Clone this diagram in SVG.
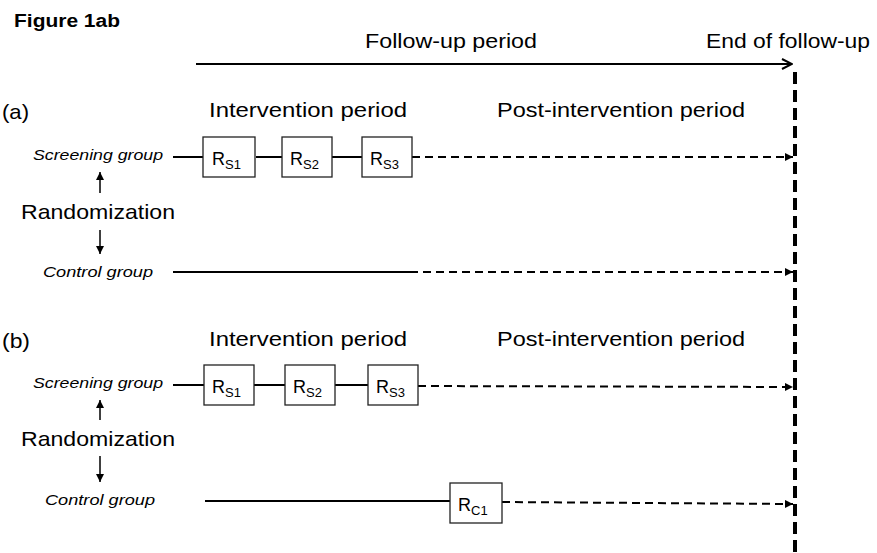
<svg xmlns="http://www.w3.org/2000/svg" width="877" height="553" viewBox="0 0 877 553">
<defs>
<style>
text{font-family:"Liberation Sans","Open Sans",sans-serif;fill:#000}
.big{font-size:21px}
.grp{font-size:15px;font-style:italic}
.box{fill:#fff;stroke:#222;stroke-width:1.3}
.solid{stroke:#000;stroke-width:2;fill:none}
.dash{stroke:#000;stroke-width:2;fill:none;stroke-dasharray:8 5}
.small{stroke:#000;stroke-width:1.5;fill:none}
.lbl{font-size:18px}
.sub{font-size:13px}
</style>
<marker id="open" viewBox="0 0 12 12" refX="11" refY="6" markerWidth="12" markerHeight="12" markerUnits="userSpaceOnUse" orient="auto">
<path d="M1,1 L11,6 L1,11" fill="none" stroke="#000" stroke-width="2"/>
</marker>
<marker id="tri" viewBox="0 0 10 10" refX="10" refY="5" markerWidth="8" markerHeight="8" markerUnits="userSpaceOnUse" orient="auto">
<path d="M0,0 L10,5 L0,10 z" fill="#000"/>
</marker>
</defs>
<text x="14" y="27" style="font-size:18px;font-weight:bold" textLength="106" lengthAdjust="spacingAndGlyphs">Figure 1ab</text>
<text class="big" x="365" y="48" style="font-size:20px" textLength="172" lengthAdjust="spacingAndGlyphs">Follow-up period</text>
<text class="big" x="706" y="48" style="font-size:20px" textLength="164" lengthAdjust="spacingAndGlyphs">End of follow-up</text>
<g id="connectors">
<line class="solid" x1="196" y1="64" x2="792" y2="64" stroke-width="2.5" marker-end="url(#open)"/>
<line x1="795" y1="72" x2="795" y2="553" stroke="#000" stroke-width="4" stroke-dasharray="12 6"/>
<line class="solid" x1="173" y1="157" x2="203" y2="157"/>
<line class="solid" x1="256" y1="157" x2="282" y2="157"/>
<line class="solid" x1="332" y1="157" x2="362" y2="157"/>
<line class="dash" x1="412" y1="157" x2="793" y2="157" marker-end="url(#tri)"/>
<line class="small" x1="100" y1="193" x2="100" y2="172" marker-end="url(#tri)"/>
<line class="small" x1="100" y1="230" x2="100" y2="254" marker-end="url(#tri)"/>
<line class="solid" x1="173" y1="272" x2="410" y2="272"/>
<line class="dash" x1="410" y1="272" x2="793" y2="272" marker-end="url(#tri)"/>
<line class="solid" x1="173" y1="385" x2="204" y2="385"/>
<line class="solid" x1="254" y1="385" x2="285" y2="385"/>
<line class="solid" x1="335" y1="385" x2="368" y2="385"/>
<line class="dash" x1="418" y1="386" x2="793" y2="387" marker-end="url(#tri)"/>
<line class="small" x1="100" y1="420" x2="100" y2="400" marker-end="url(#tri)"/>
<line class="small" x1="100" y1="456" x2="100" y2="482" marker-end="url(#tri)"/>
<line class="solid" x1="205" y1="501" x2="450" y2="501"/>
<line class="dash" x1="502" y1="502" x2="793" y2="504" marker-end="url(#tri)"/>
</g>
<g id="panel-a">
<text class="big" x="2" y="119" textLength="27" lengthAdjust="spacingAndGlyphs">(a)</text>
<text class="big" x="209" y="117" textLength="198" lengthAdjust="spacingAndGlyphs">Intervention period</text>
<text class="big" x="497" y="117" textLength="248" lengthAdjust="spacingAndGlyphs">Post-intervention period</text>
<text class="grp" x="33" y="160" textLength="130" lengthAdjust="spacingAndGlyphs">Screening group</text>
<text class="big" x="21" y="219" textLength="154" lengthAdjust="spacingAndGlyphs">Randomization</text>
<text class="grp" x="43" y="277" textLength="110" lengthAdjust="spacingAndGlyphs">Control group</text>
</g>
<g id="a-rs1"><rect class="box" x="203" y="137" width="52" height="40"/><text x="212" y="165"><tspan class="lbl">R</tspan><tspan class="sub" dy="4">S1</tspan></text></g>
<g id="a-rs2"><rect class="box" x="282" y="137" width="50" height="40"/><text x="290" y="165"><tspan class="lbl">R</tspan><tspan class="sub" dy="4">S2</tspan></text></g>
<g id="a-rs3"><rect class="box" x="362" y="137" width="50" height="40"/><text x="370" y="165"><tspan class="lbl">R</tspan><tspan class="sub" dy="4">S3</tspan></text></g>
<g id="panel-b">
<text class="big" x="2" y="348" textLength="28" lengthAdjust="spacingAndGlyphs">(b)</text>
<text class="big" x="209" y="346" textLength="198" lengthAdjust="spacingAndGlyphs">Intervention period</text>
<text class="big" x="497" y="346" textLength="248" lengthAdjust="spacingAndGlyphs">Post-intervention period</text>
<text class="grp" x="33" y="388" textLength="130" lengthAdjust="spacingAndGlyphs">Screening group</text>
<text class="big" x="21" y="446" textLength="154" lengthAdjust="spacingAndGlyphs">Randomization</text>
<text class="grp" x="45" y="505" textLength="110" lengthAdjust="spacingAndGlyphs">Control group</text>
</g>
<g id="b-rs1"><rect class="box" x="204" y="365" width="50" height="40"/><text x="212" y="393"><tspan class="lbl">R</tspan><tspan class="sub" dy="4">S1</tspan></text></g>
<g id="b-rs2"><rect class="box" x="285" y="365" width="50" height="40"/><text x="293" y="393"><tspan class="lbl">R</tspan><tspan class="sub" dy="4">S2</tspan></text></g>
<g id="b-rs3"><rect class="box" x="368" y="365" width="50" height="40"/><text x="376" y="393"><tspan class="lbl">R</tspan><tspan class="sub" dy="4">S3</tspan></text></g>
<g id="b-rc1"><rect class="box" x="450" y="483" width="52" height="40"/><text x="458" y="511"><tspan class="lbl">R</tspan><tspan class="sub" dy="4">C1</tspan></text></g>
</svg>
